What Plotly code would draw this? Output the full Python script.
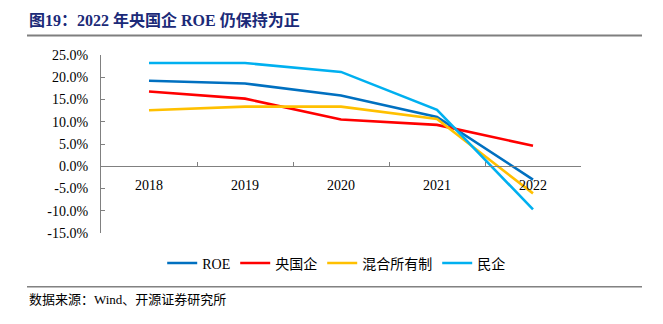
import plotly.graph_objects as go

years = ["2018", "2019", "2020", "2021", "2022"]
roe = [19.2, 18.6, 15.9, 11.1, -3.0]
central_soe = [16.8, 15.2, 10.5, 9.3, 4.6]
mixed = [12.6, 13.4, 13.4, 10.6, -6.1]
private = [23.2, 23.2, 21.2, 12.7, -9.7]
ytick_values = [-15, -10, -5, 0, 5, 10, 15, 20, 25]

series = [
    ("ROE", roe, "#0070C0"),
    ("央国企", central_soe, "#FF0000"),
    ("混合所有制", mixed, "#FFC000"),
    ("民企", private, "#00B0F0"),
]

serif = "Liberation Serif, Times New Roman, Noto Sans CJK SC"

fig = go.Figure()
for name, vals, color in series:
    fig.add_trace(go.Scatter(
        x=years, y=vals, name=name, mode="lines",
        line=dict(color=color, width=2.6),
    ))

fig.update_layout(
    width=663, height=324,
    margin=dict(l=101, r=82, t=55, b=90.5),
    paper_bgcolor="white", plot_bgcolor="white",
    font=dict(family=serif, size=14, color="#000000"),
    showlegend=True,
    legend=dict(
        orientation="h", x=0.49, xanchor="center", y=-0.171, yanchor="middle",
        font=dict(family=serif, size=14, color="#000000"),
        itemwidth=30, tracegroupgap=0,
    ),
    xaxis=dict(
        type="category", anchor="free", position=0.375,
        showline=True, linecolor="#808080", linewidth=1.2,
        ticks="inside", ticklen=4, tickcolor="#808080", tickson="boundaries",
        showgrid=False, zeroline=False,
        tickfont=dict(family=serif, size=14),
        ticklabelstandoff=6,
        range=[-0.5, 4.5],
    ),
    yaxis=dict(
        range=[-15, 25],
        tickvals=ytick_values,
        ticktext=[f"{v:.1f}%" for v in ytick_values],
        showline=True, linecolor="#808080", linewidth=1.2,
        ticks="inside", ticklen=4, tickcolor="#808080",
        showgrid=False, zeroline=False,
        tickfont=dict(family=serif, size=14),
        ticklabelstandoff=9,
    ),
)

# title
fig.add_annotation(
    xref="paper", yref="paper", x=(27 - 101) / 480, y=1 + (55 - 20) / 178.5,
    xanchor="left", yanchor="middle", showarrow=False,
    text="<b>图19：2022 年央国企 ROE 仍保持为正</b>",
    font=dict(family=serif, size=16, color="#1B2A78"),
)
# title underline
fig.add_shape(type="line", xref="paper", yref="paper",
              x0=(27 - 101) / 480, x1=(642 - 101) / 480,
              y0=1 + (55 - 35.5) / 178.5, y1=1 + (55 - 35.5) / 178.5,
              line=dict(color="#7F7F7F", width=2))
# footer line
fig.add_shape(type="line", xref="paper", yref="paper",
              x0=(27 - 101) / 480, x1=(642 - 101) / 480,
              y0=(233.5 - 287.5) / 178.5, y1=(233.5 - 287.5) / 178.5,
              line=dict(color="#404040", width=1))
# footer text
fig.add_annotation(
    xref="paper", yref="paper", x=(27 - 101) / 480, y=(233.5 - 300) / 178.5,
    xanchor="left", yanchor="middle", showarrow=False,
    text="数据来源：Wind、开源证券研究所",
    font=dict(family=serif, size=13, color="#000000"),
)

fig.write_html("out.html")
